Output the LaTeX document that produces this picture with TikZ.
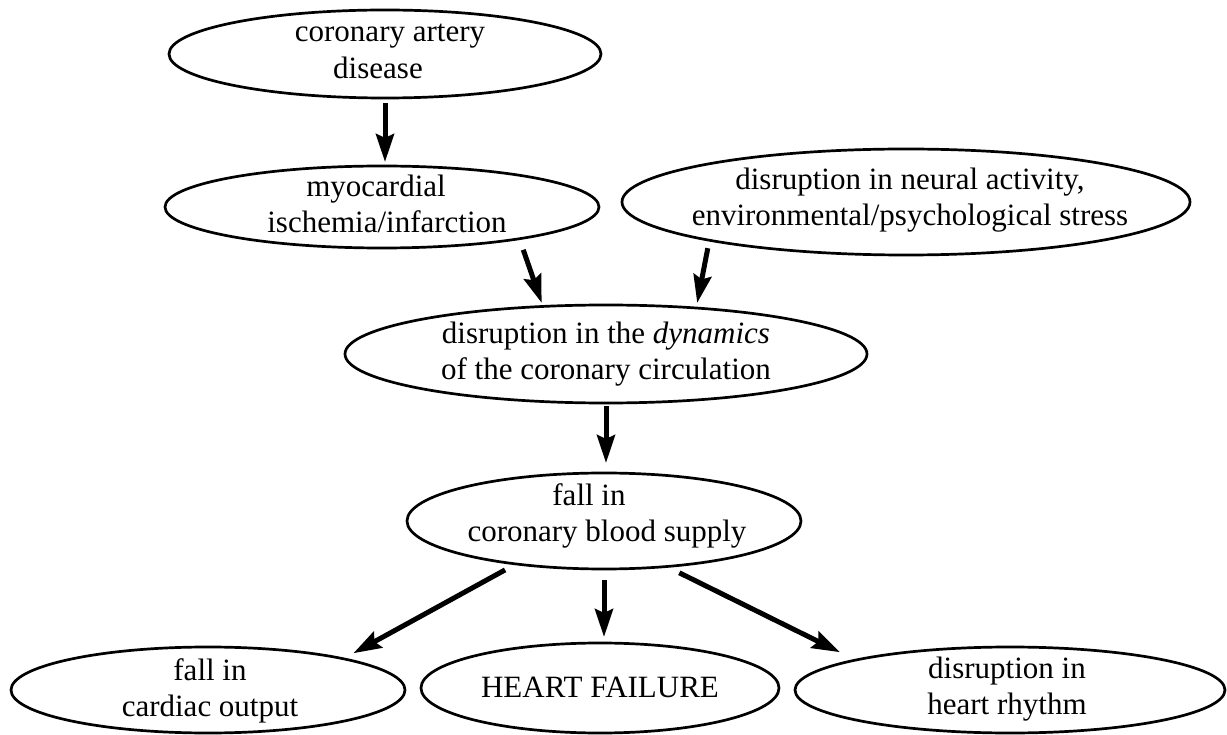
\documentclass[tikz,border=0pt]{standalone}
\usepackage{fontspec}
\setmainfont{Liberation Serif}
\usetikzlibrary{arrows.meta,shapes.geometric}
\begin{document}
\begin{tikzpicture}[x=1pt,y=1pt,
  el/.style={ellipse,draw,line width=2.7pt,inner sep=0pt,outer sep=0pt},
  txt/.style={align=center,font=\fontsize{31pt}{36.5pt}\selectfont,inner sep=0pt},
  arr/.style={line width=5pt,-{Stealth[length=28pt,width=18pt,inset=4pt]}}]
\fill[white] (0,0) rectangle (1227,-735);
\useasboundingbox (0,0) rectangle (1227,-735);
% ellipses
\node[el,minimum width=432pt,minimum height=88pt] (n1) at (385,-54) {};
\node[el,minimum width=434pt,minimum height=82pt] (n2) at (382,-207) {};
\node[el,minimum width=568pt,minimum height=106pt] (n3) at (906,-202) {};
\node[el,minimum width=522pt,minimum height=98pt] (n4) at (606,-354) {};
\node[el,minimum width=394pt,minimum height=96pt] (n5) at (604,-521) {};
\node[el,minimum width=394pt,minimum height=86pt] (n6) at (208,-690) {};
\node[el,minimum width=358pt,minimum height=90pt] (n7) at (600,-688) {};
\node[el,minimum width=430pt,minimum height=86pt] (n8) at (1010,-690) {};
% texts
\node[txt] (t1) at (390,-52.7) {\strut coronary artery\\disease\hspace*{24pt}\strut};
\node[txt] (t2) at (387,-207.2) {\strut myocardial\hspace*{22pt}\\ischemia/infarction\strut};
\node[txt] (t3) at (910,-200) {\strut disruption in neural activity,\\environmental/psychological stress\strut};
\node[txt] (t4) at (606,-354.2) {\strut disruption in the \textit{dynamics}\\of the coronary circulation\strut};
\node[txt] (t5) at (607,-516.2) {\strut fall in\hspace*{36pt}\\coronary blood supply\strut};
\node[txt] (t6) at (210,-691.2) {\strut fall in\\cardiac output\strut};
\node[txt] (t7) at (600,-689.7) {\strut HEART FAILURE\strut};
\node[txt] (t8) at (1007,-689.2) {\strut disruption in\\heart rhythm\strut};
% connectors
\draw[arr,shorten <=5pt,shorten >=4pt] (n1.south) -- (n1.south |- n2.north);
\draw[arr,shorten <=11.7pt,shorten >=3.8pt] (n2.-13.2) -- (n4.143.8);
\draw[arr,shorten <=8.1pt,shorten >=5.2pt] (n3.191.65) -- (n4.27.5);
\draw[arr,shorten <=3pt,shorten >=10pt] (n4.south) -- (n4.south |- n5.north);
\draw[arr,shorten <=12.4pt,shorten >=11.5pt] (n5.206.6) -- (n6.13.27);
\draw[arr,shorten <=11pt,shorten >=6pt] (n5.south) -- (n5.south |- n7.north);
\draw[arr,shorten <=14.1pt,shorten >=17.7pt] (n5.-36.58) -- (n8.169.69);
\end{tikzpicture}
\end{document}
